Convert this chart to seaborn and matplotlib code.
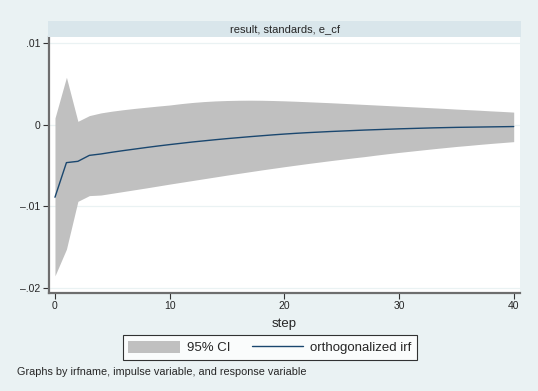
import numpy as np
import pandas as pd
import seaborn as sns
import matplotlib.pyplot as plt
from matplotlib.patches import Rectangle, Patch
from matplotlib.lines import Line2D

# valeurs (irf orthogonalisee et bornes IC 95%)
step = list(range(41))
oirf = [-0.0089, -0.00466, -0.0045, -0.00377, -0.0036, -0.00338, -0.00318, -0.00299,
        -0.0028, -0.00262, -0.00245, -0.00229, -0.00213, -0.00199, -0.00185, -0.00172,
        -0.0016, -0.00148, -0.00137, -0.00126, -0.00116, -0.00107, -0.00099, -0.00092,
        -0.00085, -0.00079, -0.00073, -0.00067, -0.00062, -0.00057, -0.00052, -0.00048,
        -0.00044, -0.0004, -0.00037, -0.00034, -0.00032, -0.0003, -0.00028, -0.00026,
        -0.00024]
ci_upper = [0.0008, 0.0058, 0.0004, 0.0011, 0.00143, 0.00165, 0.00183, 0.00199,
            0.00213, 0.00227, 0.0024, 0.00257, 0.00271, 0.00282, 0.0029, 0.00295,
            0.00298, 0.00299, 0.00298, 0.00295, 0.00291, 0.00286, 0.0028, 0.00274,
            0.00268, 0.00261, 0.00254, 0.00247, 0.0024, 0.00233, 0.00226, 0.00219,
            0.00212, 0.00205, 0.00198, 0.0019, 0.00183, 0.00176, 0.00168, 0.00161,
            0.00153]
ci_lower = [-0.01853, -0.01526, -0.0094, -0.0087, -0.00863, -0.00841, -0.00819, -0.00797,
            -0.00775, -0.00752, -0.00729, -0.00707, -0.00685, -0.00663, -0.00641, -0.00619,
            -0.00598, -0.00577, -0.00556, -0.00536, -0.00516, -0.00497, -0.00478, -0.0046,
            -0.00442, -0.00425, -0.00408, -0.00392, -0.00374, -0.00357, -0.00341, -0.00326,
            -0.00311, -0.00296, -0.00282, -0.00268, -0.00256, -0.00243, -0.00231, -0.0022,
            -0.00209]

titre_panel = "result, standards, e_cf"
yticks = [-0.02, -0.01, 0, 0.01]
ytick_labels = ["\u2013.02", "\u2013.01", "0", ".01"]
xticks = [0, 10, 20, 30, 40]

df = pd.DataFrame({"step": step, "oirf": oirf, "lo": ci_lower, "hi": ci_upper})

sns.set_style("white")
plt.rcParams["font.family"] = ["Liberation Sans", "DejaVu Sans"]

fond = "#EAF2F3"
gris_ic = "#C0C0C0"
bleu = "#1A476F"

fig = plt.figure(figsize=(5.38, 3.91), dpi=100, facecolor=fond)
ax = fig.add_axes([49 / 538, 1 - 293 / 391, 471 / 538, 256 / 391])
ax.set_facecolor("white")

ax.fill_between(df["step"], df["lo"], df["hi"], color=gris_ic, lw=0, zorder=2)
sns.lineplot(data=df, x="step", y="oirf", color=bleu, lw=1.0, ax=ax, zorder=3)

ax.set_xlim(-0.52, 40.55)
ax.set_ylim(-0.02063, 0.01073)
ax.set_yticks(yticks)
ax.set_yticklabels(ytick_labels)
ax.set_xticks(xticks)
for y in yticks:
    ax.axhline(y, color=fond, lw=0.9, zorder=1)

for s in ["top", "right"]:
    ax.spines[s].set_visible(False)
for s in ["left", "bottom"]:
    ax.spines[s].set_color("#6E6E6E")
    ax.spines[s].set_linewidth(1.6)
ax.tick_params(axis="both", which="major", length=4, width=0.8, color="#333333",
               labelsize=7.5, pad=2, direction="out", left=True, bottom=True)
ax.set_xlabel("step", fontsize=9.5, labelpad=5)
ax.set_ylabel("")

# bandeau du panneau
fig.patches.append(Rectangle((48 / 538, 1 - 36.7 / 391), 473 / 538, 15.7 / 391,
                             transform=fig.transFigure, facecolor="#D9E6EB",
                             edgecolor="none", zorder=0))
fig.text(285 / 538, 1 - 29 / 391, titre_panel, ha="center", va="center", fontsize=8)

handles = [Patch(facecolor=gris_ic, edgecolor="none"),
           Line2D([0], [0], color=bleu, lw=1.0)]
leg = fig.legend(handles, ["95% CI", "orthogonalized irf"], ncol=2,
                 loc="center", bbox_to_anchor=(270 / 538, 1 - 347.5 / 391),
                 frameon=True, fancybox=False, fontsize=9.5, handlelength=3.9,
                 handleheight=1.1, columnspacing=1.6, handletextpad=0.55,
                 borderpad=0.4, borderaxespad=0)
leg.get_frame().set_edgecolor("black")
leg.get_frame().set_linewidth(0.8)

fig.text(17 / 538, 1 - 372 / 391, "Graphs by irfname, impulse variable, and response variable",
         ha="left", va="center", fontsize=7.8)

fig.savefig("out.png", dpi=100, facecolor=fond)
